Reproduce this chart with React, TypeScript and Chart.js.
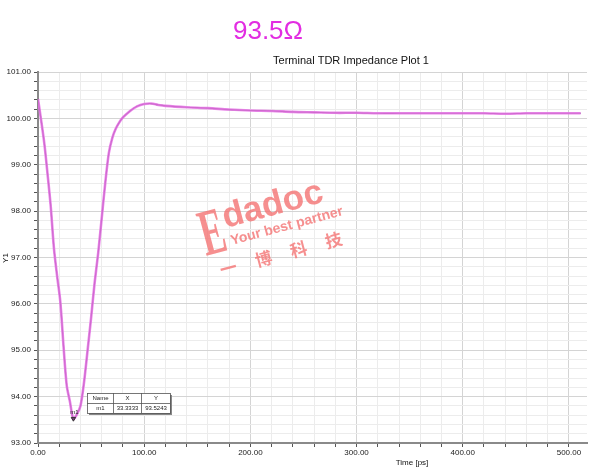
import React, { useEffect, useRef } from "react";
import { Chart, registerables } from "chart.js";
Chart.register(...registerables);

const timePs = [0, 3, 6, 9, 12, 15, 18, 21, 24, 27, 30, 33.33, 36.67, 40, 43.3, 46.7, 50, 53.3, 56.7, 60, 63.3, 66.7, 70, 73.3, 76.7, 80, 86.7, 93.3, 100, 106.7, 113.3, 120, 140, 160, 180, 200, 220, 240, 260, 280, 300, 320, 340, 360, 380, 400, 420, 440, 460, 480, 500, 511];
const impedance = [100.42, 99.95, 99.45, 98.8, 98.1, 97.2, 96.6, 96.05, 95.1, 94.25, 93.9, 93.52, 93.62, 93.8, 94.3, 95.0, 95.7, 96.45, 97.1, 97.85, 98.6, 99.25, 99.58, 99.78, 99.92, 100.02, 100.16, 100.26, 100.31, 100.32, 100.29, 100.27, 100.24, 100.22, 100.19, 100.17, 100.16, 100.14, 100.13, 100.12, 100.12, 100.11, 100.11, 100.11, 100.11, 100.11, 100.11, 100.1, 100.11, 100.11, 100.11, 100.11];
const markerName = "m1";
const markerX = 33.3333;
const markerY = 93.5243;
const mainTitle = "93.5Ω";
const plotTitle = "Terminal TDR Impedance Plot 1";
const xTitle = "Time [ps]";
const yTitle = "Y1";
const xMin = 0, xMax = 517, xStep = 20, xMajor = 100;
const yMin = 93, yMax = 101, yStep = 0.2, yMajor = 1;

const FONT = "'Liberation Sans', Arial, sans-serif";

const overlay = {
  id: "overlay",
  afterDraw(chart: any) {
    const ctx = chart.ctx;
    ctx.save();
    ctx.fillStyle = "#e22de2";
    ctx.font = `26px ${FONT}`;
    ctx.textAlign = "center";
    ctx.textBaseline = "middle";
    ctx.fillText(mainTitle, 268, 32);
    ctx.fillStyle = "#111";
    ctx.font = `11px ${FONT}`;
    ctx.fillText(plotTitle, 351, 61);
    ctx.font = `8px ${FONT}`;
    ctx.fillText(xTitle, 412, 463);
    ctx.save();
    ctx.translate(6, 258);
    ctx.rotate(-Math.PI / 2);
    ctx.fillText(yTitle, 0, 0);
    ctx.restore();

    // watermark
    ctx.save();
    ctx.fillStyle = "rgba(244,112,112,0.78)";
    ctx.translate(206, 256);
    ctx.rotate(-15 * Math.PI / 180);
    ctx.textAlign = "left";
    ctx.textBaseline = "alphabetic";
    ctx.save();
    ctx.scale(0.55, 1);
    ctx.font = `bold 66px 'Liberation Serif', serif`;
    ctx.fillText("E", 0, 0);
    ctx.restore();
    ctx.font = `bold 35px ${FONT}`;
    ctx.fillText("dadoc", 26, -22);
    ctx.font = `bold 14px ${FONT}`;
    ctx.fillText("Your best partner", 28, -4);
    ctx.font = `bold 17px 'Noto Sans CJK SC', sans-serif`;
    ctx.fillText("一     博     科     技", 10, 24);
    ctx.restore();

    // marker label and table
    const xs = chart.scales.x, ys = chart.scales.y;
    const px = xs.getPixelForValue(markerX);
    const py = ys.getPixelForValue(markerY);
    ctx.fillStyle = "#222";
    ctx.font = `6px ${FONT}`;
    ctx.textAlign = "center";
    ctx.fillText(markerName, px + 1, py - 6);

    const tx = 87, ty = 393, cw = [26, 28, 29], rh = 10;
    const tw = cw[0] + cw[1] + cw[2];
    ctx.fillStyle = "#888";
    ctx.fillRect(tx + 2, ty + 2, tw, rh * 2);
    ctx.fillStyle = "#fff";
    ctx.fillRect(tx, ty, tw, rh * 2);
    ctx.strokeStyle = "#555";
    ctx.lineWidth = 0.8;
    ctx.strokeRect(tx + 0.5, ty + 0.5, tw, rh * 2);
    ctx.beginPath();
    ctx.moveTo(tx, ty + rh + 0.5);
    ctx.lineTo(tx + tw, ty + rh + 0.5);
    ctx.moveTo(tx + cw[0] + 0.5, ty);
    ctx.lineTo(tx + cw[0] + 0.5, ty + rh * 2);
    ctx.moveTo(tx + cw[0] + cw[1] + 0.5, ty);
    ctx.lineTo(tx + cw[0] + cw[1] + 0.5, ty + rh * 2);
    ctx.stroke();
    ctx.fillStyle = "#222";
    ctx.textBaseline = "middle";
    const cells = [["Name", "X", "Y"], [markerName, markerX.toFixed(4), markerY.toFixed(4)]];
    for (let r = 0; r < 2; r++) {
      let cx = tx;
      for (let c = 0; c < 3; c++) {
        ctx.fillText(cells[r][c], cx + cw[c] / 2 + 0.5, ty + r * rh + rh / 2 + 0.5);
        cx += cw[c];
      }
    }
    ctx.restore();
  },
};

export default function App() {
  const ref = useRef<HTMLCanvasElement>(null);
  useEffect(() => {
    if (!ref.current) return;
    const pts = timePs.map((t, i) => ({ x: t, y: impedance[i] }));
    const isMajor = (v: number, m: number) => Math.abs(v / m - Math.round(v / m)) < 1e-6;
    const makeTicks = (lo: number, hi: number, step: number) => {
      const out: any[] = [];
      const n = Math.floor((hi - lo) / step + 1e-6);
      for (let i = 0; i <= n; i++) out.push({ value: +(lo + i * step).toFixed(6) });
      return out;
    };
    const chart = new Chart(ref.current, {
      type: "line",
      data: {
        datasets: [
          { data: [{ x: markerX, y: markerY }], order: 0, borderColor: "#333", backgroundColor: "#7a3a7a", pointStyle: "triangle", rotation: 180, pointRadius: 2.5, showLine: false },
          { data: pts, order: 1, borderColor: "rgba(232,118,232,0.85)", borderWidth: 2.6, pointRadius: 0, tension: 0.3 },
          { data: pts, order: 2, borderColor: "#4a2448", borderWidth: 1.2, pointRadius: 0, tension: 0.3 },
        ],
      },
      options: {
        responsive: false,
        animation: false,
        layout: { padding: { left: 0, right: 2, top: 72, bottom: 0 } },
        plugins: { legend: { display: false }, tooltip: { enabled: false } },
        scales: {
          x: {
            type: "linear",
            min: xMin,
            max: xMax,
            afterFit: (s: any) => { s.height = 30; },
            afterBuildTicks: (s: any) => { s.ticks = makeTicks(xMin, xMax, xStep); },
            ticks: {
              autoSkip: false,
              maxRotation: 0,
              padding: 1,
              color: "#222",
              font: { size: 8, family: FONT },
              callback: (v: any) => (isMajor(v, xMajor) ? Number(v).toFixed(2) : ""),
            },
            grid: {
              color: (c: any) => (c.tick && isMajor(c.tick.value, xMajor) ? "#d4d4d4" : "#ececec"),
              tickColor: "#555",
              tickLength: 4,
            },
            border: { color: "#8a8a8a", width: 2 },
          },
          y: {
            min: yMin,
            max: yMax,
            afterFit: (s: any) => { s.width = 38; },
            afterBuildTicks: (s: any) => { s.ticks = makeTicks(yMin, yMax, yStep); },
            ticks: {
              autoSkip: false,
              padding: 3,
              color: "#222",
              font: { size: 8, family: FONT },
              callback: (v: any) => (isMajor(v, yMajor) ? Number(v).toFixed(2) : ""),
            },
            grid: {
              color: (c: any) => (c.tick && isMajor(c.tick.value, yMajor) ? "#d4d4d4" : "#ececec"),
              tickColor: "#555",
              tickLength: 4,
            },
            border: { color: "#8a8a8a", width: 2 },
          },
        },
      },
      plugins: [overlay],
    } as any);
    return () => chart.destroy();
  }, []);
  return (
    <div style={{ position: "fixed", left: 0, top: 0, width: 592, height: 473, background: "#fff" }}>
      <canvas ref={ref} width={592} height={473} />
    </div>
  );
}
